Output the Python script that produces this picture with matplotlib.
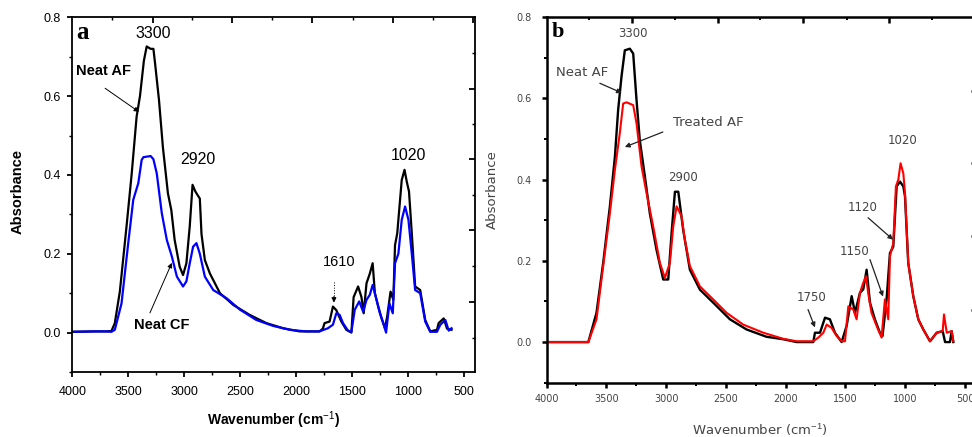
import matplotlib
matplotlib.use('Agg')
import matplotlib.pyplot as plt
from matplotlib.ticker import MultipleLocator, FixedLocator

plt.rcParams['mathtext.fontset'] = 'custom'
plt.rcParams['mathtext.rm'] = 'Liberation Sans'
plt.rcParams['mathtext.it'] = 'Liberation Sans:italic'
plt.rcParams['mathtext.bf'] = 'Liberation Sans:bold'

# ---------------- data (wavenumber, absorbance) ----------------
neat_af_a = [(4000, 0.002), (3800, 0.003), (3700, 0.003), (3650, 0.004), (3620, 0.024), (3575, 0.104),
             (3515, 0.27), (3470, 0.40), (3425, 0.548), (3395, 0.60), (3360, 0.69), (3335, 0.726),
             (3300, 0.72), (3275, 0.72), (3260, 0.683), (3225, 0.59), (3190, 0.47), (3145, 0.353),
             (3115, 0.311), (3085, 0.235), (3040, 0.167), (3010, 0.146), (2980, 0.176), (2950, 0.27),
             (2925, 0.375), (2900, 0.358), (2860, 0.34), (2845, 0.25), (2815, 0.184), (2770, 0.15),
             (2680, 0.10), (2560, 0.07), (2415, 0.045), (2265, 0.024), (2115, 0.011), (1967, 0.003),
             (1790, 0.003), (1760, 0.01), (1745, 0.024), (1700, 0.028), (1670, 0.066), (1640, 0.057),
             (1595, 0.028), (1550, 0.007), (1505, 0.0), (1485, 0.09), (1445, 0.117), (1415, 0.09),
             (1395, 0.049), (1370, 0.125), (1340, 0.15), (1315, 0.176), (1295, 0.10), (1265, 0.066),
             (1235, 0.036), (1205, 0.011), (1185, 0.041), (1155, 0.104), (1130, 0.083), (1115, 0.222),
             (1095, 0.252), (1080, 0.303), (1055, 0.387), (1030, 0.413), (1010, 0.383), (990, 0.358),
             (965, 0.252), (935, 0.117), (890, 0.108), (845, 0.032), (800, 0.003), (740, 0.007),
             (725, 0.024), (680, 0.036), (650, 0.01), (610, 0.007)]

neat_cf_a = [(4000, 0.002), (3800, 0.003), (3700, 0.003), (3650, 0.002), (3620, 0.007), (3560, 0.074),
             (3500, 0.227), (3455, 0.337), (3410, 0.379), (3380, 0.438), (3365, 0.445), (3300, 0.448),
             (3275, 0.44), (3245, 0.404), (3200, 0.303), (3155, 0.235), (3110, 0.193), (3065, 0.142),
             (3010, 0.117), (2980, 0.13), (2950, 0.176), (2920, 0.218), (2890, 0.227), (2860, 0.20),
             (2815, 0.142), (2740, 0.108), (2620, 0.087), (2500, 0.058), (2355, 0.032), (2205, 0.017),
             (2055, 0.007), (1910, 0.003), (1790, 0.003), (1715, 0.011), (1670, 0.02), (1640, 0.049),
             (1610, 0.045), (1580, 0.024), (1535, 0.005), (1505, 0.002), (1475, 0.058), (1435, 0.079),
             (1400, 0.053), (1370, 0.083), (1340, 0.096), (1315, 0.121), (1280, 0.083), (1250, 0.049),
             (1220, 0.024), (1195, 0.0), (1165, 0.074), (1135, 0.049), (1115, 0.176), (1085, 0.20),
             (1055, 0.286), (1025, 0.32), (995, 0.286), (965, 0.20), (935, 0.108), (890, 0.10),
             (845, 0.028), (800, 0.002), (740, 0.002), (710, 0.02), (665, 0.032), (635, 0.005),
             (610, 0.011)]

neat_af_b = [(4000, 0.0), (3800, 0.0), (3650, 0.0), (3582, 0.072), (3526, 0.195), (3470, 0.334),
             (3428, 0.456), (3401, 0.571), (3373, 0.653), (3345, 0.718), (3303, 0.722), (3275, 0.71),
             (3247, 0.595), (3220, 0.497), (3177, 0.407), (3136, 0.317), (3080, 0.227), (3024, 0.154),
             (2982, 0.154), (2954, 0.268), (2926, 0.37), (2898, 0.37), (2857, 0.276), (2801, 0.178),
             (2717, 0.129), (2606, 0.097), (2466, 0.056), (2327, 0.031), (2160, 0.013), (2020, 0.007),
             (1908, 0.0), (1769, 0.0), (1755, 0.023), (1713, 0.023), (1671, 0.06), (1630, 0.056),
             (1588, 0.023), (1532, 0.0), (1490, 0.04), (1448, 0.113), (1420, 0.072), (1379, 0.121),
             (1351, 0.13), (1323, 0.178), (1295, 0.097), (1254, 0.056), (1212, 0.023), (1190, 0.015),
             (1156, 0.105), (1128, 0.219), (1100, 0.235), (1072, 0.383), (1044, 0.395), (1016, 0.383),
             (1002, 0.358), (975, 0.195), (933, 0.113), (891, 0.056), (849, 0.031), (793, 0.002),
             (737, 0.023), (687, 0.027), (667, 0.0), (626, 0.0), (612, 0.027), (598, 0.0)]

treated_af_b = [(4000, 0.0), (3800, 0.0), (3650, 0.0), (3582, 0.056), (3526, 0.187), (3470, 0.317),
                (3428, 0.424), (3387, 0.514), (3359, 0.587), (3330, 0.59), (3275, 0.583), (3247, 0.538),
                (3205, 0.432), (3163, 0.366), (3108, 0.285), (3052, 0.195), (3010, 0.158), (2968, 0.195),
                (2940, 0.285), (2912, 0.334), (2871, 0.31), (2843, 0.252), (2801, 0.187), (2717, 0.137),
                (2606, 0.105), (2494, 0.072), (2355, 0.043), (2187, 0.023), (2020, 0.008), (1908, 0.002),
                (1769, 0.002), (1727, 0.011), (1685, 0.023), (1657, 0.043), (1616, 0.035), (1574, 0.015),
                (1532, 0.002), (1504, 0.002), (1476, 0.088), (1434, 0.08), (1407, 0.056), (1379, 0.121),
                (1351, 0.146), (1328, 0.162), (1310, 0.121), (1282, 0.072), (1240, 0.04), (1198, 0.011),
                (1170, 0.105), (1142, 0.056), (1128, 0.211), (1100, 0.244), (1078, 0.383), (1058, 0.40),
                (1039, 0.44), (1016, 0.415), (1002, 0.366), (975, 0.195), (933, 0.113), (891, 0.056),
                (849, 0.031), (793, 0.002), (737, 0.023), (687, 0.027), (676, 0.068), (653, 0.023),
                (612, 0.027), (598, 0.002)]

x_major_ticks = [4000, 3500, 3000, 2500, 2000, 1500, 1000, 500]
x_tick_labels = ['4000', '3500', '3000', '2500', '2000', '1500', '1000', '500']
y_major_ticks = [0.0, 0.2, 0.4, 0.6, 0.8]
y_tick_labels = ['0.0', '0.2', '0.4', '0.6', '0.8']
# ticks of the (unlabelled) secondary top / right axes
top_major_ticks = [3282, 2568, 1853, 1134, 419]
top_minor_ticks = [3648, 2929, 2211, 1491, 777]
right_major_ticks = [0.618, 0.44, 0.261, 0.078]
right_minor_ticks = [0.709, 0.529, 0.349, 0.170, -0.013]

W, H = 972, 437
fig = plt.figure(figsize=(W / 100, H / 100), dpi=100)


def fx(px):
    return px / W


def fy(py):
    return 1 - py / H


def xs(s):
    return [p[0] for p in s]


def ys(s):
    return [p[1] for p in s]


def style_axes(ax, tick_font, tick_size, tick_color, spine_lw, xpad, ypad):
    ax.set_xlim(4000, 400)
    ax.set_ylim(-0.1, 0.8)
    ax.set_xticks(x_major_ticks)
    ax.set_xticklabels(x_tick_labels)
    ax.xaxis.set_minor_locator(MultipleLocator(250))
    ax.set_yticks(y_major_ticks)
    ax.set_yticklabels(y_tick_labels)
    ax.yaxis.set_minor_locator(MultipleLocator(0.1))
    for s in ax.spines.values():
        s.set_linewidth(spine_lw)
    ax.tick_params(axis='x', which='major', direction='out', length=3.5, width=spine_lw, pad=xpad)
    ax.tick_params(axis='y', which='major', direction='out', length=3.5, width=spine_lw, pad=ypad)
    ax.tick_params(which='minor', direction='out', length=2, width=spine_lw * 0.8)
    for lab in ax.get_xticklabels() + ax.get_yticklabels():
        lab.set_fontfamily(tick_font)
        lab.set_fontsize(tick_size)
        lab.set_color(tick_color)
    top = ax.secondary_xaxis('top')
    top.set_xticks(top_major_ticks)
    top.set_xticks(top_minor_ticks, minor=True)
    top.tick_params(which='major', direction='in', length=4.5, width=spine_lw, labeltop=False)
    top.tick_params(which='minor', direction='in', length=2.5, width=spine_lw * 0.8, labeltop=False)
    top.spines['top'].set_visible(False)
    right = ax.secondary_yaxis('right')
    right.set_yticks(right_major_ticks)
    right.set_yticks(right_minor_ticks, minor=True)
    right.tick_params(which='major', direction='in', length=4.5, width=spine_lw, labelright=False)
    right.tick_params(which='minor', direction='in', length=2.5, width=spine_lw * 0.8, labelright=False)
    right.spines['right'].set_visible(False)


# ---------------- panel a ----------------
axa = fig.add_axes([fx(72.3), fy(372), fx(475) - fx(72.3), fy(17.3) - fy(372)])
axa.plot(xs(neat_af_a), ys(neat_af_a), color='black', lw=1.6)
axa.plot(xs(neat_cf_a), ys(neat_cf_a), color='#0000ff', lw=1.6)
style_axes(axa, 'Liberation Sans', 9, 'black', 1.3, 6.5, 4.5)

fa = 'Liberation Sans'
axa.text(3905, 0.762, 'a', family='Liberation Serif', fontweight='bold', fontsize=18, ha='center', va='center')
axa.text(3280, 0.76, '3300', family=fa, fontsize=11.5, ha='center', va='center')
axa.text(2878, 0.438, '2920', family=fa, fontsize=11.5, ha='center', va='center')
axa.text(994, 0.45, '1020', family=fa, fontsize=11.5, ha='center', va='center')
axa.text(1618, 0.18, '1610', family=fa, fontsize=10.5, ha='center', va='center')
axa.text(3717, 0.663, 'Neat AF', family=fa, fontsize=10.5, fontweight='bold', ha='center', va='center')
axa.text(3199, 0.02, 'Neat CF', family=fa, fontsize=10.5, fontweight='bold', ha='center', va='center')
arr = dict(arrowstyle='-|>', lw=0.7, color='black', mutation_scale=7, shrinkA=0, shrinkB=0)
axa.annotate('', xy=(3404, 0.56), xytext=(3707, 0.62), arrowprops=arr)
axa.annotate('', xy=(3110, 0.177), xytext=(3306, 0.05), arrowprops=arr)
axa.plot([1661, 1661], [0.129, 0.09], color='black', lw=0.7, ls=':')
axa.annotate('', xy=(1661, 0.076), xytext=(1661, 0.092), arrowprops=arr)

fig.text(fx(18), fy(192), 'Absorbance', rotation=90, family=fa, fontweight='bold', fontsize=10.5,
         ha='center', va='center')
fig.text(fx(274), fy(420), r'Wavenumber (cm$^{-1}$)', family=fa, fontweight='bold', fontsize=10,
         ha='center', va='center')

# ---------------- panel b ----------------
axb = fig.add_axes([fx(546.5), fy(382.7), fx(977) - fx(546.5), fy(17) - fy(382.7)])
axb.plot(xs(neat_af_b), ys(neat_af_b), color='black', lw=1.7)
axb.plot(xs(treated_af_b), ys(treated_af_b), color='#ff0000', lw=1.5)
style_axes(axb, 'DejaVu Sans', 7, '#444444', 1.8, 4.5, 7)

fb = 'DejaVu Sans'
gc = '#444444'
axb.text(3905, 0.762, 'b', family='Liberation Serif', fontweight='bold', fontsize=16, ha='center', va='center')
axb.text(3278, 0.76, '3300', family=fb, fontsize=8.5, color=gc, ha='center', va='center')
axb.text(3705, 0.664, 'Neat AF', family=fb, fontsize=9.5, color=gc, ha='center', va='center')
axb.text(2650, 0.541, 'Treated AF', family=fb, fontsize=9.5, color=gc, ha='center', va='center')
axb.text(2859, 0.404, '2900', family=fb, fontsize=8.5, color=gc, ha='center', va='center')
axb.text(1019, 0.497, '1020', family=fb, fontsize=8.5, color=gc, ha='center', va='center')
axb.text(1353, 0.33, '1120', family=fb, fontsize=8.5, color=gc, ha='center', va='center')
axb.text(1420, 0.222, '1150', family=fb, fontsize=8.5, color=gc, ha='center', va='center')
axb.text(1780, 0.11, '1750', family=fb, fontsize=8.5, color=gc, ha='center', va='center')
arrb = dict(arrowstyle='-|>', lw=0.9, color='#222222', mutation_scale=7, shrinkA=0, shrinkB=0)
axb.annotate('', xy=(3370, 0.613), xytext=(3554, 0.637), arrowprops=arrb)
axb.annotate('', xy=(3345, 0.48), xytext=(3027, 0.517), arrowprops=arrb)
axb.annotate('', xy=(1102, 0.252), xytext=(1311, 0.306), arrowprops=arrb)
axb.annotate('', xy=(1186, 0.112), xytext=(1295, 0.203), arrowprops=arrb)
axb.annotate('', xy=(1755, 0.036), xytext=(1813, 0.08), arrowprops=arrb)

fig.text(fx(492), fy(190), 'Absorbance', rotation=90, family=fb, fontsize=9.5, color=gc,
         ha='center', va='center')
fig.text(fx(760), fy(430), r'Wavenumber (cm$^{-1}$)', family=fb, fontsize=9.5, color=gc,
         ha='center', va='center')

fig.savefig('out.png', dpi=100)
